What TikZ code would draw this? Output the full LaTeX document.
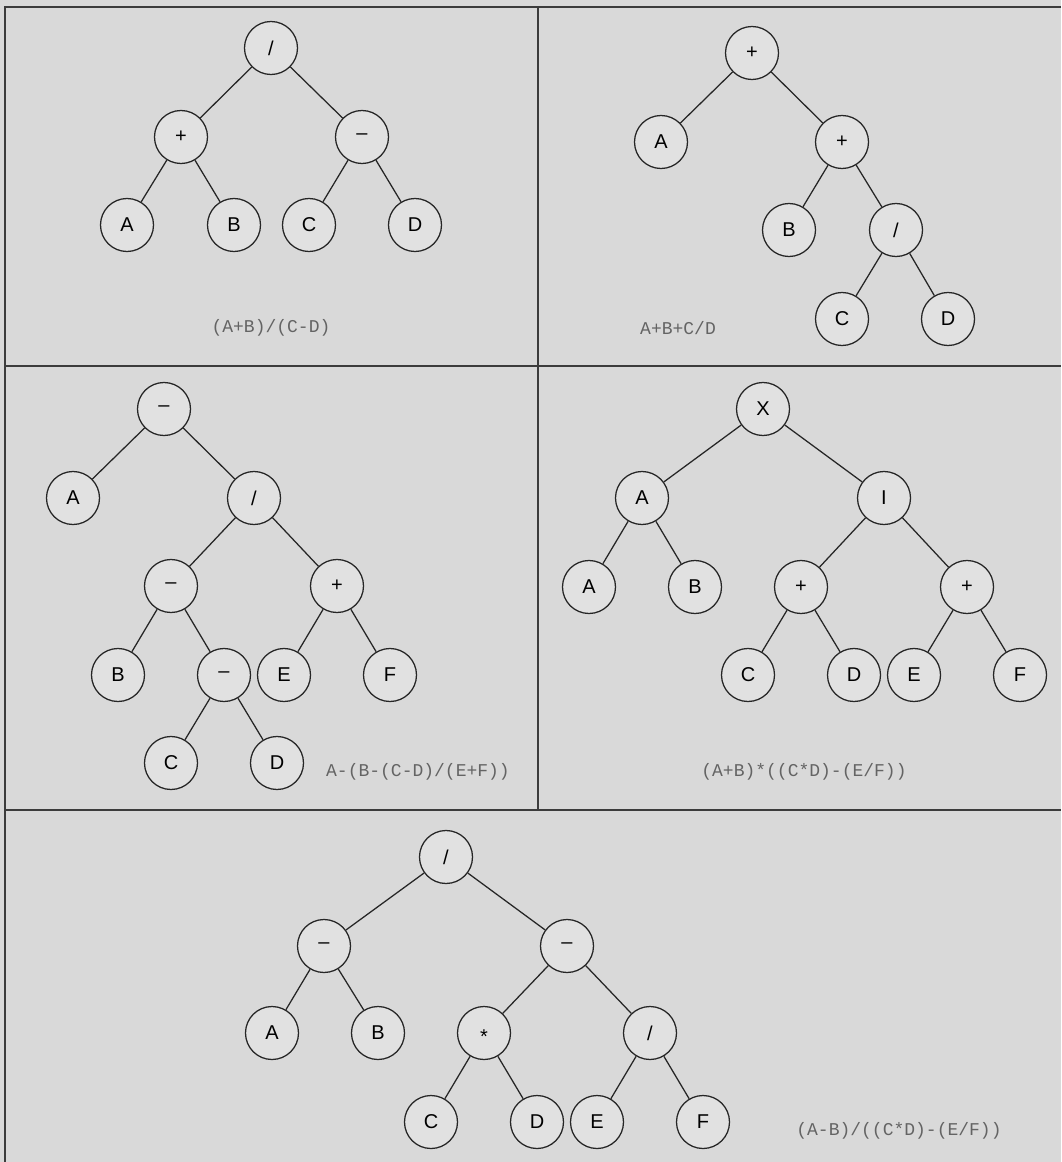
\documentclass[tikz,border=0pt]{standalone}
\usepackage{fontspec}
\setmainfont{Liberation Sans}
\newfontfamily\exprfont{Liberation Mono}
\definecolor{panelbg}{HTML}{D9D9D9}
\definecolor{nodefill}{HTML}{E1E1E1}
\definecolor{framegray}{HTML}{3C3C3C}
\definecolor{exprgray}{HTML}{646464}

\begin{document}
\begin{tikzpicture}[x=0.75pt, y=-0.75pt,
	treenode/.style={circle, draw=black!85, fill=nodefill, line width=0.95pt,
		minimum size=39.75pt, inner sep=0pt, font=\fontsize{15}{18}\selectfont},
	exprlabel/.style={text=exprgray, inner sep=0pt, font=\exprfont\fontsize{13.5}{16}\selectfont},
	branch/.style={draw=black!85, line width=0.95pt},
	panelline/.style={draw=framegray, line width=1.5pt}]
	
	% Background and panel frame
	\fill[panelbg] (0,0) rectangle (1061,1162);
	\useasboundingbox (0,0) rectangle (1061,1162);
	\draw[panelline] (1061,7) -- (5,7) -- (5,1162);
	\draw[panelline] (5,366) -- (1061,366);
	\draw[panelline] (5,810) -- (1061,810);
	\draw[panelline] (538,7) -- (538,810);
	
	% Panel 1: (A+B)/(C-D)
	\node[treenode] (a1) at (271,48) {/};
	\node[treenode] (a2) at (181,137) {+};
	\node[treenode] (a3) at (362,137) {–};
	\node[treenode] (a4) at (127,225) {A};
	\node[treenode] (a5) at (234,225) {B};
	\node[treenode] (a6) at (309,225) {C};
	\node[treenode] (a7) at (415,225) {D};
	\foreach \p/\c in {a1/a2, a1/a3, a2/a4, a2/a5, a3/a6, a3/a7}
		\draw[branch] (\p) -- (\c);
	\node[exprlabel] (expr1) at (271,328) {(A+B)/(C-D)};
	
	% Panel 2: A+B+C/D
	\node[treenode] (b1) at (752,53) {+};
	\node[treenode] (b2) at (661,142) {A};
	\node[treenode] (b3) at (842,142) {+};
	\node[treenode] (b4) at (789,230) {B};
	\node[treenode] (b5) at (896,230) {/};
	\node[treenode] (b6) at (842,319) {C};
	\node[treenode] (b7) at (948,319) {D};
	\foreach \p/\c in {b1/b2, b1/b3, b3/b4, b3/b5, b5/b6, b5/b7}
		\draw[branch] (\p) -- (\c);
	\node[exprlabel] (expr2) at (678,328) {A+B+C/D};
	
	% Panel 3: A-(B-(C-D)/(E+F))
	\node[treenode] (c1) at (164,409) {–};
	\node[treenode] (c2) at (73,498) {A};
	\node[treenode] (c3) at (254,498) {/};
	\node[treenode] (c4) at (171,586) {–};
	\node[treenode] (c5) at (337,586) {+};
	\node[treenode] (c6) at (118,675) {B};
	\node[treenode] (c7) at (224,675) {–};
	\node[treenode] (c8) at (284,675) {E};
	\node[treenode] (c9) at (390,675) {F};
	\node[treenode] (c10) at (171,763) {C};
	\node[treenode] (c11) at (277,763) {D};
	\foreach \p/\c in {c1/c2, c1/c3, c3/c4, c3/c5, c4/c6, c4/c7, c5/c8, c5/c9, c7/c10, c7/c11}
		\draw[branch] (\p) -- (\c);
	\node[exprlabel] (expr3) at (418,772) {A-(B-(C-D)/(E+F))};
	
	% Panel 4: (A+B)*((C*D)-(E/F))
	\node[treenode] (d1) at (763,409) {X};
	\node[treenode] (d2) at (642,498) {A};
	\node[treenode] (d3) at (884,498) {I};
	\node[treenode] (d4) at (589,587) {A};
	\node[treenode] (d5) at (695,587) {B};
	\node[treenode] (d6) at (801,587) {+};
	\node[treenode] (d7) at (967,587) {+};
	\node[treenode] (d8) at (748,675) {C};
	\node[treenode] (d9) at (854,675) {D};
	\node[treenode] (d10) at (914,675) {E};
	\node[treenode] (d11) at (1020,675) {F};
	\foreach \p/\c in {d1/d2, d1/d3, d2/d4, d2/d5, d3/d6, d3/d7, d6/d8, d6/d9, d7/d10, d7/d11}
		\draw[branch] (\p) -- (\c);
	\node[exprlabel] (expr4) at (804,772) {(A+B)*((C*D)-(E/F))};
	
	% Panel 5: (A-B)/((C*D)-(E/F))
	\node[treenode] (e1) at (446,857) {/};
	\node[treenode] (e2) at (324,946) {–};
	\node[treenode] (e3) at (567,946) {–};
	\node[treenode] (e4) at (272,1033) {A};
	\node[treenode] (e5) at (378,1033) {B};
	\node[treenode] (e6) at (484,1033) {\raisebox{-0.52em}[0pt][0pt]{*}};
	\node[treenode] (e7) at (650,1033) {/};
	\node[treenode] (e8) at (431,1122) {C};
	\node[treenode] (e9) at (537,1122) {D};
	\node[treenode] (e10) at (597,1122) {E};
	\node[treenode] (e11) at (703,1122) {F};
	\foreach \p/\c in {e1/e2, e1/e3, e2/e4, e2/e5, e3/e6, e3/e7, e6/e8, e6/e9, e7/e10, e7/e11}
		\draw[branch] (\p) -- (\c);
	\node[exprlabel] (expr5) at (899,1131) {(A-B)/((C*D)-(E/F))};
	
\end{tikzpicture}
\end{document}
